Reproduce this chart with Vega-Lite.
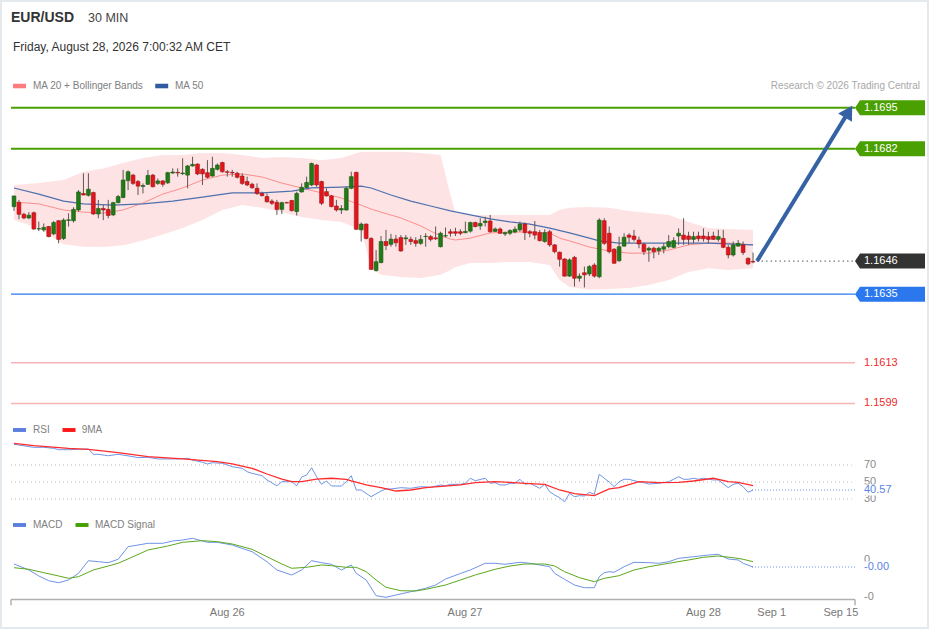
{
  "$schema": "https://vega.github.io/schema/vega-lite/v6.json",
  "width": 929,
  "height": 629,
  "autosize": {"type": "none"},
  "padding": 0,
  "background": "#ffffff",
  "config": {"view": {"stroke": "#e4e9ed", "strokeWidth": 4}, "scale": {"continuousPadding": 0}, "text": {"font": "Liberation Sans"}},
  "datasets": {
    "candles": [
      {"i":0,"o":1.16631,"h":1.16666,"l":1.16617,"c":1.16666},
      {"i":1,"o":1.16645,"h":1.16653,"l":1.16590,"c":1.16606},
      {"i":2,"o":1.16606,"h":1.16611,"l":1.16590,"c":1.16594},
      {"i":3,"o":1.16594,"h":1.16613,"l":1.16590,"c":1.16603},
      {"i":4,"o":1.16611,"h":1.16615,"l":1.16555,"c":1.16558},
      {"i":5,"o":1.16558,"h":1.16582,"l":1.16551,"c":1.16559},
      {"i":6,"o":1.16555,"h":1.16576,"l":1.16549,"c":1.16563},
      {"i":7,"o":1.16566,"h":1.16568,"l":1.16531,"c":1.16533},
      {"i":8,"o":1.16542,"h":1.16584,"l":1.16538,"c":1.16579},
      {"i":9,"o":1.16585,"h":1.16587,"l":1.16511,"c":1.16524},
      {"i":10,"o":1.16527,"h":1.16593,"l":1.16522,"c":1.16587},
      {"i":11,"o":1.16586,"h":1.16609,"l":1.16566,"c":1.16588},
      {"i":12,"o":1.16585,"h":1.16629,"l":1.16579,"c":1.16622},
      {"i":13,"o":1.16620,"h":1.16685,"l":1.16615,"c":1.16679},
      {"i":14,"o":1.16674,"h":1.16740,"l":1.16668,"c":1.16669},
      {"i":15,"o":1.16668,"h":1.16740,"l":1.16664,"c":1.16688},
      {"i":16,"o":1.16677,"h":1.16680,"l":1.16604,"c":1.16607},
      {"i":17,"o":1.16607,"h":1.16653,"l":1.16593,"c":1.16625},
      {"i":18,"o":1.16625,"h":1.16636,"l":1.16587,"c":1.16620},
      {"i":19,"o":1.16622,"h":1.16653,"l":1.16593,"c":1.16602},
      {"i":20,"o":1.16604,"h":1.16647,"l":1.16600,"c":1.16644},
      {"i":21,"o":1.16644,"h":1.16669,"l":1.16642,"c":1.16664},
      {"i":22,"o":1.16661,"h":1.16751,"l":1.16658,"c":1.16718},
      {"i":23,"o":1.16716,"h":1.16749,"l":1.16685,"c":1.16745},
      {"i":24,"o":1.16734,"h":1.16738,"l":1.16702,"c":1.16707},
      {"i":25,"o":1.16713,"h":1.16718,"l":1.16669,"c":1.16698},
      {"i":26,"o":1.16697,"h":1.16707,"l":1.16674,"c":1.16700},
      {"i":27,"o":1.16704,"h":1.16751,"l":1.16702,"c":1.16733},
      {"i":28,"o":1.16734,"h":1.16738,"l":1.16694,"c":1.16696},
      {"i":29,"o":1.16707,"h":1.16723,"l":1.16702,"c":1.16715},
      {"i":30,"o":1.16715,"h":1.16718,"l":1.16696,"c":1.16704},
      {"i":31,"o":1.16709,"h":1.16745,"l":1.16705,"c":1.16742},
      {"i":32,"o":1.16741,"h":1.16756,"l":1.16738,"c":1.16744},
      {"i":33,"o":1.16743,"h":1.16756,"l":1.16729,"c":1.16741},
      {"i":34,"o":1.16739,"h":1.16789,"l":1.16734,"c":1.16741},
      {"i":35,"o":1.16734,"h":1.16767,"l":1.16691,"c":1.16764},
      {"i":36,"o":1.16764,"h":1.16794,"l":1.16762,"c":1.16769},
      {"i":37,"o":1.16770,"h":1.16772,"l":1.16734,"c":1.16738},
      {"i":38,"o":1.16753,"h":1.16756,"l":1.16702,"c":1.16738},
      {"i":39,"o":1.16742,"h":1.16783,"l":1.16723,"c":1.16727},
      {"i":40,"o":1.16731,"h":1.16794,"l":1.16729,"c":1.16756},
      {"i":41,"o":1.16753,"h":1.16772,"l":1.16749,"c":1.16767},
      {"i":42,"o":1.16775,"h":1.16778,"l":1.16742,"c":1.16745},
      {"i":43,"o":1.16745,"h":1.16751,"l":1.16729,"c":1.16743},
      {"i":44,"o":1.16743,"h":1.16751,"l":1.16729,"c":1.16741},
      {"i":45,"o":1.16740,"h":1.16745,"l":1.16723,"c":1.16727},
      {"i":46,"o":1.16731,"h":1.16740,"l":1.16702,"c":1.16707},
      {"i":47,"o":1.16713,"h":1.16729,"l":1.16698,"c":1.16702},
      {"i":48,"o":1.16704,"h":1.16709,"l":1.16689,"c":1.16693},
      {"i":49,"o":1.16691,"h":1.16707,"l":1.16669,"c":1.16674},
      {"i":50,"o":1.16674,"h":1.16680,"l":1.16664,"c":1.16667},
      {"i":51,"o":1.16664,"h":1.16674,"l":1.16644,"c":1.16647},
      {"i":52,"o":1.16649,"h":1.16655,"l":1.16636,"c":1.16642},
      {"i":53,"o":1.16645,"h":1.16653,"l":1.16604,"c":1.16622},
      {"i":54,"o":1.16622,"h":1.16647,"l":1.16607,"c":1.16644},
      {"i":55,"o":1.16644,"h":1.16647,"l":1.16642,"c":1.16643},
      {"i":56,"o":1.16651,"h":1.16653,"l":1.16615,"c":1.16618},
      {"i":57,"o":1.16615,"h":1.16680,"l":1.16602,"c":1.16674},
      {"i":58,"o":1.16679,"h":1.16707,"l":1.16677,"c":1.16694},
      {"i":59,"o":1.16693,"h":1.16729,"l":1.16691,"c":1.16710},
      {"i":60,"o":1.16702,"h":1.16775,"l":1.16698,"c":1.16772},
      {"i":61,"o":1.16767,"h":1.16770,"l":1.16696,"c":1.16702},
      {"i":62,"o":1.16713,"h":1.16716,"l":1.16636,"c":1.16642},
      {"i":63,"o":1.16680,"h":1.16691,"l":1.16664,"c":1.16666},
      {"i":64,"o":1.16666,"h":1.16669,"l":1.16629,"c":1.16631},
      {"i":65,"o":1.16633,"h":1.16653,"l":1.16615,"c":1.16620},
      {"i":66,"o":1.16620,"h":1.16636,"l":1.16607,"c":1.16625},
      {"i":67,"o":1.16620,"h":1.16696,"l":1.16618,"c":1.16691},
      {"i":68,"o":1.16691,"h":1.16745,"l":1.16688,"c":1.16729},
      {"i":69,"o":1.16743,"h":1.16745,"l":1.16555,"c":1.16557},
      {"i":70,"o":1.16555,"h":1.16579,"l":1.16517,"c":1.16574},
      {"i":71,"o":1.16574,"h":1.16576,"l":1.16524,"c":1.16527},
      {"i":72,"o":1.16527,"h":1.16531,"l":1.16424,"c":1.16426},
      {"i":73,"o":1.16422,"h":1.16489,"l":1.16419,"c":1.16451},
      {"i":74,"o":1.16448,"h":1.16535,"l":1.16446,"c":1.16517},
      {"i":75,"o":1.16517,"h":1.16555,"l":1.16489,"c":1.16504},
      {"i":76,"o":1.16508,"h":1.16542,"l":1.16500,"c":1.16525},
      {"i":77,"o":1.16525,"h":1.16538,"l":1.16500,"c":1.16513},
      {"i":78,"o":1.16530,"h":1.16538,"l":1.16484,"c":1.16486},
      {"i":79,"o":1.16526,"h":1.16538,"l":1.16506,"c":1.16529},
      {"i":80,"o":1.16524,"h":1.16533,"l":1.16506,"c":1.16517},
      {"i":81,"o":1.16520,"h":1.16531,"l":1.16500,"c":1.16511},
      {"i":82,"o":1.16511,"h":1.16538,"l":1.16506,"c":1.16524},
      {"i":83,"o":1.16533,"h":1.16544,"l":1.16500,"c":1.16534},
      {"i":84,"o":1.16533,"h":1.16538,"l":1.16517,"c":1.16524},
      {"i":85,"o":1.16529,"h":1.16566,"l":1.16522,"c":1.16526},
      {"i":86,"o":1.16500,"h":1.16549,"l":1.16498,"c":1.16544},
      {"i":87,"o":1.16535,"h":1.16563,"l":1.16531,"c":1.16536},
      {"i":88,"o":1.16549,"h":1.16558,"l":1.16533,"c":1.16544},
      {"i":89,"o":1.16549,"h":1.16562,"l":1.16535,"c":1.16544},
      {"i":90,"o":1.16549,"h":1.16557,"l":1.16538,"c":1.16544},
      {"i":91,"o":1.16546,"h":1.16582,"l":1.16544,"c":1.16550},
      {"i":92,"o":1.16551,"h":1.16582,"l":1.16546,"c":1.16579},
      {"i":93,"o":1.16579,"h":1.16582,"l":1.16563,"c":1.16566},
      {"i":94,"o":1.16568,"h":1.16593,"l":1.16555,"c":1.16576},
      {"i":95,"o":1.16579,"h":1.16598,"l":1.16566,"c":1.16584},
      {"i":96,"o":1.16584,"h":1.16604,"l":1.16546,"c":1.16549},
      {"i":97,"o":1.16550,"h":1.16563,"l":1.16548,"c":1.16558},
      {"i":98,"o":1.16558,"h":1.16563,"l":1.16542,"c":1.16544},
      {"i":99,"o":1.16542,"h":1.16549,"l":1.16535,"c":1.16546},
      {"i":100,"o":1.16544,"h":1.16557,"l":1.16538,"c":1.16553},
      {"i":101,"o":1.16548,"h":1.16566,"l":1.16544,"c":1.16557},
      {"i":102,"o":1.16555,"h":1.16582,"l":1.16549,"c":1.16574},
      {"i":103,"o":1.16574,"h":1.16579,"l":1.16522,"c":1.16546},
      {"i":104,"o":1.16549,"h":1.16555,"l":1.16531,"c":1.16544},
      {"i":105,"o":1.16549,"h":1.16584,"l":1.16524,"c":1.16538},
      {"i":106,"o":1.16546,"h":1.16555,"l":1.16517,"c":1.16520},
      {"i":107,"o":1.16517,"h":1.16557,"l":1.16513,"c":1.16546},
      {"i":108,"o":1.16549,"h":1.16555,"l":1.16500,"c":1.16506},
      {"i":109,"o":1.16506,"h":1.16509,"l":1.16478,"c":1.16484},
      {"i":110,"o":1.16482,"h":1.16484,"l":1.16435,"c":1.16459},
      {"i":111,"o":1.16460,"h":1.16462,"l":1.16402,"c":1.16404},
      {"i":112,"o":1.16404,"h":1.16462,"l":1.16402,"c":1.16457},
      {"i":113,"o":1.16465,"h":1.16470,"l":1.16370,"c":1.16397},
      {"i":114,"o":1.16397,"h":1.16413,"l":1.16386,"c":1.16404},
      {"i":115,"o":1.16415,"h":1.16435,"l":1.16367,"c":1.16408},
      {"i":116,"o":1.16411,"h":1.16440,"l":1.16404,"c":1.16435},
      {"i":117,"o":1.16440,"h":1.16446,"l":1.16399,"c":1.16404},
      {"i":118,"o":1.16402,"h":1.16593,"l":1.16397,"c":1.16587},
      {"i":119,"o":1.16585,"h":1.16593,"l":1.16506,"c":1.16511},
      {"i":120,"o":1.16544,"h":1.16566,"l":1.16478,"c":1.16484},
      {"i":121,"o":1.16492,"h":1.16495,"l":1.16444,"c":1.16446},
      {"i":122,"o":1.16454,"h":1.16533,"l":1.16451,"c":1.16500},
      {"i":123,"o":1.16502,"h":1.16544,"l":1.16500,"c":1.16531},
      {"i":124,"o":1.16538,"h":1.16544,"l":1.16511,"c":1.16531},
      {"i":125,"o":1.16535,"h":1.16555,"l":1.16517,"c":1.16524},
      {"i":126,"o":1.16522,"h":1.16533,"l":1.16495,"c":1.16509},
      {"i":127,"o":1.16508,"h":1.16513,"l":1.16473,"c":1.16484},
      {"i":128,"o":1.16489,"h":1.16500,"l":1.16451,"c":1.16495},
      {"i":129,"o":1.16495,"h":1.16500,"l":1.16462,"c":1.16484},
      {"i":130,"o":1.16487,"h":1.16500,"l":1.16473,"c":1.16495},
      {"i":131,"o":1.16492,"h":1.16511,"l":1.16478,"c":1.16500},
      {"i":132,"o":1.16500,"h":1.16538,"l":1.16495,"c":1.16517},
      {"i":133,"o":1.16498,"h":1.16531,"l":1.16495,"c":1.16520},
      {"i":134,"o":1.16535,"h":1.16560,"l":1.16506,"c":1.16544},
      {"i":135,"o":1.16538,"h":1.16593,"l":1.16506,"c":1.16524},
      {"i":136,"o":1.16535,"h":1.16549,"l":1.16506,"c":1.16524},
      {"i":137,"o":1.16524,"h":1.16549,"l":1.16511,"c":1.16533},
      {"i":138,"o":1.16535,"h":1.16549,"l":1.16517,"c":1.16526},
      {"i":139,"o":1.16535,"h":1.16560,"l":1.16517,"c":1.16526},
      {"i":140,"o":1.16533,"h":1.16549,"l":1.16511,"c":1.16524},
      {"i":141,"o":1.16535,"h":1.16549,"l":1.16522,"c":1.16524},
      {"i":142,"o":1.16524,"h":1.16555,"l":1.16517,"c":1.16533},
      {"i":143,"o":1.16527,"h":1.16555,"l":1.16495,"c":1.16498},
      {"i":144,"o":1.16498,"h":1.16506,"l":1.16462,"c":1.16473},
      {"i":145,"o":1.16473,"h":1.16517,"l":1.16468,"c":1.16506},
      {"i":146,"o":1.16502,"h":1.16522,"l":1.16500,"c":1.16511},
      {"i":147,"o":1.16506,"h":1.16517,"l":1.16473,"c":1.16481},
      {"i":148,"o":1.16462,"h":1.16465,"l":1.16440,"c":1.16444},
      {"i":149,"o":1.16452,"h":1.16481,"l":1.16446,"c":1.16450}
    ],
    "bands": [
      {"i":0,"up":1.16702,"lo":1.16587,"ma":1.16646},
      {"i":5,"up":1.16708,"lo":1.16560,"ma":1.16640},
      {"i":10,"up":1.16718,"lo":1.16508,"ma":1.16620},
      {"i":14,"up":1.16745,"lo":1.16500,"ma":1.16613},
      {"i":18,"up":1.16756,"lo":1.16499,"ma":1.16610},
      {"i":22,"up":1.16774,"lo":1.16505,"ma":1.16620},
      {"i":26,"up":1.16790,"lo":1.16520,"ma":1.16643},
      {"i":30,"up":1.16800,"lo":1.16540,"ma":1.16672},
      {"i":34,"up":1.16800,"lo":1.16561,"ma":1.16692},
      {"i":38,"up":1.16806,"lo":1.16587,"ma":1.16718},
      {"i":42,"up":1.16806,"lo":1.16620,"ma":1.16734},
      {"i":46,"up":1.16800,"lo":1.16636,"ma":1.16738},
      {"i":50,"up":1.16790,"lo":1.16627,"ma":1.16728},
      {"i":54,"up":1.16793,"lo":1.16613,"ma":1.16708},
      {"i":58,"up":1.16790,"lo":1.16597,"ma":1.16692},
      {"i":62,"up":1.16783,"lo":1.16587,"ma":1.16676},
      {"i":66,"up":1.16790,"lo":1.16581,"ma":1.16659},
      {"i":70,"up":1.16810,"lo":1.16555,"ma":1.16636},
      {"i":72,"up":1.16810,"lo":1.16430,"ma":1.16623},
      {"i":74,"up":1.16810,"lo":1.16408,"ma":1.16613},
      {"i":78,"up":1.16810,"lo":1.16401,"ma":1.16594},
      {"i":82,"up":1.16806,"lo":1.16398,"ma":1.16568},
      {"i":86,"up":1.16800,"lo":1.16408,"ma":1.16535},
      {"i":88,"up":1.16669,"lo":1.16424,"ma":1.16525},
      {"i":89,"up":1.16610,"lo":1.16434,"ma":1.16522},
      {"i":92,"up":1.16604,"lo":1.16447,"ma":1.16528},
      {"i":96,"up":1.16604,"lo":1.16447,"ma":1.16545},
      {"i":100,"up":1.16604,"lo":1.16450,"ma":1.16548},
      {"i":104,"up":1.16604,"lo":1.16450,"ma":1.16548},
      {"i":108,"up":1.16604,"lo":1.16440,"ma":1.16545},
      {"i":110,"up":1.16620,"lo":1.16391,"ma":1.16528},
      {"i":112,"up":1.16627,"lo":1.16368,"ma":1.16519},
      {"i":116,"up":1.16630,"lo":1.16359,"ma":1.16499},
      {"i":120,"up":1.16627,"lo":1.16362,"ma":1.16486},
      {"i":124,"up":1.16617,"lo":1.16365,"ma":1.16479},
      {"i":128,"up":1.16610,"lo":1.16375,"ma":1.16479},
      {"i":132,"up":1.16604,"lo":1.16391,"ma":1.16489},
      {"i":136,"up":1.16581,"lo":1.16417,"ma":1.16506},
      {"i":140,"up":1.16561,"lo":1.16430,"ma":1.16512},
      {"i":144,"up":1.16558,"lo":1.16424,"ma":1.16512},
      {"i":149,"up":1.16555,"lo":1.16430,"ma":1.16506}
    ],
    "ma50": [
      {"i":0,"v":1.16692},{"i":5,"v":1.16672},{"i":10,"v":1.16649},{"i":14,"v":1.16640},
      {"i":20,"v":1.16636},{"i":26,"v":1.16640},{"i":32,"v":1.16649},{"i":38,"v":1.16662},
      {"i":44,"v":1.16676},{"i":50,"v":1.16676},{"i":56,"v":1.16682},{"i":60,"v":1.16692},
      {"i":66,"v":1.16695},{"i":70,"v":1.16698},{"i":72,"v":1.16692},{"i":76,"v":1.16669},
      {"i":80,"v":1.16649},{"i":84,"v":1.16633},{"i":88,"v":1.16617},{"i":92,"v":1.16604},
      {"i":96,"v":1.16591},{"i":100,"v":1.16581},{"i":104,"v":1.16574},{"i":108,"v":1.16561},
      {"i":112,"v":1.16545},{"i":116,"v":1.16528},{"i":118,"v":1.16519},{"i":122,"v":1.16512},
      {"i":130,"v":1.16512},{"i":140,"v":1.16512},{"i":149,"v":1.16506}
    ],
    "levels": [
      {"value":1.16954,"label":"1.1695","kind":"resistance"},
      {"value":1.16820,"label":"1.1682","kind":"resistance"},
      {"value":1.16453,"label":"1.1646","kind":"last"},
      {"value":1.16345,"label":"1.1635","kind":"pivot"},
      {"value":1.16121,"label":"1.1613","kind":"support"},
      {"value":1.15988,"label":"1.1599","kind":"support"}
    ],
    "target": [{"i":149.8,"p":1.16453},{"i":167.6,"p":1.169235}],
    "rsi": [
      {"i":0,"v":94.4},{"i":1,"v":93.5},{"i":4,"v":90.8},{"i":6,"v":90.8},{"i":8,"v":89.6},{"i":9,"v":88.0},
      {"i":11,"v":88.0},{"i":13,"v":88.5},{"i":15,"v":88.8},{"i":16,"v":82.6},{"i":17,"v":82.6},{"i":19,"v":80.9},
      {"i":21,"v":82.6},{"i":24,"v":79.8},{"i":25,"v":78.6},{"i":27,"v":79.1},{"i":29,"v":77.1},{"i":33,"v":77.1},
      {"i":35,"v":77.9},{"i":36,"v":75.9},{"i":38,"v":73.2},{"i":39,"v":71.2},{"i":40,"v":72.7},{"i":42,"v":72.0},
      {"i":43,"v":70.0},{"i":44,"v":68.0},{"i":46,"v":66.1},{"i":47,"v":62.1},{"i":48,"v":60.2},{"i":50,"v":57.4},
      {"i":51,"v":52.4},{"i":53,"v":45.6},{"i":54,"v":50.4},{"i":56,"v":50.4},{"i":57,"v":45.6},{"i":58,"v":55.9},
      {"i":59,"v":58.2},{"i":60,"v":66.8},{"i":61,"v":56.2},{"i":62,"v":47.3},{"i":63,"v":51.2},{"i":64,"v":45.3},
      {"i":66,"v":45.3},{"i":67,"v":50.4},{"i":68,"v":57.4},{"i":69,"v":40.6},{"i":70,"v":40.6},{"i":72,"v":32.7},
      {"i":74,"v":39.4},{"i":75,"v":41.8},{"i":76,"v":41.8},{"i":78,"v":43.3},{"i":80,"v":42.6},{"i":82,"v":44.5},
      {"i":84,"v":43.8},{"i":86,"v":46.5},{"i":87,"v":45.6},{"i":88,"v":47.3},{"i":90,"v":47.3},{"i":91,"v":48.5},
      {"i":92,"v":54.4},{"i":93,"v":51.5},{"i":95,"v":54.4},{"i":96,"v":48.5},{"i":97,"v":49.2},{"i":98,"v":46.5},
      {"i":99,"v":46.5},{"i":100,"v":48.5},{"i":101,"v":48.5},{"i":102,"v":53.2},{"i":103,"v":47.3},{"i":104,"v":48.5},
      {"i":105,"v":45.6},{"i":106,"v":42.6},{"i":107,"v":47.3},{"i":108,"v":38.6},{"i":109,"v":34.7},{"i":110,"v":31.5},
      {"i":111,"v":26.8},{"i":112,"v":36.7},{"i":113,"v":32.7},{"i":114,"v":33.9},{"i":115,"v":33.5},{"i":116,"v":37.9},
      {"i":117,"v":35.5},{"i":118,"v":59.1},{"i":119,"v":54.4},{"i":120,"v":50.0},{"i":121,"v":44.5},{"i":122,"v":50.4},
      {"i":123,"v":53.2},{"i":124,"v":53.2},{"i":125,"v":51.5},{"i":127,"v":49.2},{"i":128,"v":47.6},{"i":130,"v":48.5},
      {"i":132,"v":50.4},{"i":134,"v":56.2},{"i":135,"v":53.2},{"i":136,"v":53.2},{"i":137,"v":54.4},{"i":138,"v":53.2},
      {"i":139,"v":54.4},{"i":141,"v":52.4},{"i":142,"v":52.4},{"i":144,"v":43.3},{"i":145,"v":47.3},{"i":146,"v":48.5},
      {"i":147,"v":44.5},{"i":148,"v":37.9},{"i":149,"v":40.57}
    ],
    "rsima": [
      {"i":0,"v":95.5},{"i":4,"v":92.7},{"i":11,"v":89.6},{"i":15,"v":88.5},{"i":21,"v":84.5},{"i":27,"v":79.8},
      {"i":34,"v":77.1},{"i":41,"v":73.9},{"i":44,"v":71.2},{"i":48,"v":66.1},{"i":51,"v":59.4},{"i":54,"v":53.5},
      {"i":56,"v":50.4},{"i":58,"v":50.4},{"i":61,"v":53.5},{"i":64,"v":54.4},{"i":67,"v":53.2},{"i":68,"v":51.2},
      {"i":71,"v":46.5},{"i":74,"v":43.3},{"i":77,"v":39.4},{"i":80,"v":40.6},{"i":83,"v":43.3},{"i":90,"v":46.5},
      {"i":93,"v":49.2},{"i":97,"v":50.4},{"i":100,"v":49.6},{"i":103,"v":48.5},{"i":107,"v":47.3},{"i":110,"v":40.6},
      {"i":113,"v":36.2},{"i":117,"v":33.9},{"i":120,"v":41.8},{"i":122,"v":43.3},{"i":126,"v":50.4},{"i":130,"v":49.2},
      {"i":134,"v":49.6},{"i":137,"v":51.2},{"i":141,"v":54.4},{"i":144,"v":50.4},{"i":146,"v":49.6},{"i":149,"v":45.6}
    ],
    "rsigrid": [{"v":70,"label":"70"},{"v":50,"label":"50"},{"v":30,"label":"30"}],
    "macd": [
      {"i":0,"v":-0.000108},{"i":3,"v":-0.00027},{"i":5,"v":-0.000432},{"i":7,"v":-0.00056},{"i":9,"v":-0.000614},
      {"i":11,"v":-0.00054},{"i":13,"v":-0.00036},{"i":15,"v":-0.000019},{"i":17,"v":-0.000046},{"i":19,"v":-0.000073},
      {"i":21,"v":0.000019},{"i":23,"v":0.00036},{"i":25,"v":0.000405},{"i":27,"v":0.000451},{"i":30,"v":0.000451},
      {"i":32,"v":0.000514},{"i":34,"v":0.00054},{"i":36,"v":0.000586},{"i":39,"v":0.000478},{"i":41,"v":0.000478},
      {"i":44,"v":0.000405},{"i":48,"v":0.000224},{"i":51,"v":-0.000046},{"i":53,"v":-0.00027},{"i":56,"v":-0.000405},
      {"i":58,"v":-0.00027},{"i":60,"v":-0.000019},{"i":62,"v":-0.000073},{"i":64,"v":-0.000116},{"i":66,"v":-0.00027},
      {"i":68,"v":-0.000135},{"i":69,"v":-0.00036},{"i":71,"v":-0.00054},{"i":73,"v":-0.000965},{"i":75,"v":-0.001008},
      {"i":77,"v":-0.000946},{"i":80,"v":-0.000857},{"i":83,"v":-0.000765},{"i":85,"v":-0.000676},{"i":87,"v":-0.000514},
      {"i":90,"v":-0.000365},{"i":92,"v":-0.00027},{"i":95,"v":-0.000089},{"i":97,"v":-0.000089},{"i":99,"v":-0.000116},
      {"i":102,"v":-0.000062},{"i":104,"v":-0.000089},{"i":106,"v":-0.000135},{"i":108,"v":-0.000181},{"i":109,"v":-0.00036},
      {"i":111,"v":-0.000522},{"i":113,"v":-0.000676},{"i":115,"v":-0.000749},{"i":117,"v":-0.000749},{"i":118,"v":-0.000451},
      {"i":119,"v":-0.000343},{"i":120,"v":-0.000316},{"i":121,"v":-0.000332},{"i":123,"v":-0.000181},{"i":125,"v":-0.000062},
      {"i":128,"v":-0.000073},{"i":130,"v":-0.000089},{"i":132,"v":-0.000046},{"i":134,"v":0.000046},{"i":137,"v":0.000089},
      {"i":140,"v":0.000135},{"i":142,"v":0.000154},{"i":144,"v":0.000027},{"i":146,"v":0},{"i":147,"v":-0.000089},
      {"i":149,"v":-0.00019}
    ],
    "signal": [
      {"i":0,"v":-0.000208},{"i":3,"v":-0.000251},{"i":6,"v":-0.000343},{"i":9,"v":-0.000432},{"i":11,"v":-0.000495},
      {"i":13,"v":-0.000451},{"i":16,"v":-0.00027},{"i":19,"v":-0.000162},{"i":21,"v":-0.000089},{"i":24,"v":0.000089},
      {"i":27,"v":0.00027},{"i":31,"v":0.000378},{"i":34,"v":0.000478},{"i":38,"v":0.000522},{"i":41,"v":0.000495},
      {"i":44,"v":0.000432},{"i":48,"v":0.000289},{"i":51,"v":0.000089},{"i":54,"v":-0.000108},{"i":56,"v":-0.000224},
      {"i":59,"v":-0.000197},{"i":62,"v":-0.000135},{"i":64,"v":-0.000154},{"i":67,"v":-0.000197},{"i":69,"v":-0.000197},
      {"i":71,"v":-0.000316},{"i":73,"v":-0.00054},{"i":75,"v":-0.000738},{"i":78,"v":-0.00083},{"i":81,"v":-0.000838},
      {"i":83,"v":-0.000792},{"i":87,"v":-0.000676},{"i":90,"v":-0.00054},{"i":93,"v":-0.000405},{"i":97,"v":-0.000251},
      {"i":100,"v":-0.000162},{"i":103,"v":-0.000108},{"i":107,"v":-0.000108},{"i":109,"v":-0.000162},{"i":111,"v":-0.000316},
      {"i":114,"v":-0.000478},{"i":117,"v":-0.000586},{"i":119,"v":-0.000495},{"i":122,"v":-0.000424},{"i":125,"v":-0.00027},
      {"i":128,"v":-0.000181},{"i":132,"v":-0.000089},{"i":136,"v":0},{"i":139,"v":0.000073},{"i":142,"v":0.000108},
      {"i":145,"v":0.000062},{"i":147,"v":0.000019},{"i":149,"v":-0.000046}
    ],
    "macdticks": [{"v":0,"label":"0"},{"v":-0.001,"label":"-0"}],
    "axisends": [{"i":-0.6},{"i":169.56}],
    "dates": [
      {"i":43,"label":"Aug 26"},{"i":90.93,"label":"Aug 27"},{"i":139,"label":"Aug 28"},
      {"i":152.76,"label":"Sep 1"},{"i":166.7,"label":"Sep 15"}
    ]
  },
  "layer": [
    {
      "layer": [
        {
          "data": {"name": "bands"},
          "mark": {"type": "area", "color": "#fde3e3", "opacity": 1},
          "encoding": {
            "x": {"field": "i", "type": "quantitative", "scale": {"domain": [-2.8226, 184.476], "nice": false, "zero": false}, "axis": null},
            "y": {"field": "lo", "type": "quantitative", "scale": {"domain": [1.152507, 1.173063], "nice": false, "zero": false}, "axis": null},
            "y2": {"field": "up"}
          }
        },
        {
          "data": {"name": "bands"},
          "mark": {"type": "line", "color": "#ff8d8d", "strokeWidth": 1},
          "encoding": {
            "x": {"field": "i", "type": "quantitative", "scale": {"domain": [-2.8226, 184.476], "nice": false, "zero": false}, "axis": null},
            "y": {"field": "ma", "type": "quantitative", "scale": {"domain": [1.152507, 1.173063], "nice": false, "zero": false}, "axis": null}
          }
        },
        {
          "data": {"name": "ma50"},
          "mark": {"type": "line", "color": "#4e70ad", "strokeWidth": 1.2},
          "encoding": {
            "x": {"field": "i", "type": "quantitative", "scale": {"domain": [-2.8226, 184.476], "nice": false, "zero": false}, "axis": null},
            "y": {"field": "v", "type": "quantitative", "scale": {"domain": [1.152507, 1.173063], "nice": false, "zero": false}, "axis": null}
          }
        },
        {
          "data": {"name": "candles"},
          "mark": {"type": "rule", "color": "#5e5656", "strokeWidth": 1},
          "encoding": {
            "x": {"field": "i", "type": "quantitative", "scale": {"domain": [-2.8226, 184.476], "nice": false, "zero": false}, "axis": null},
            "y": {"field": "l", "type": "quantitative", "scale": {"domain": [1.152507, 1.173063], "nice": false, "zero": false}, "axis": null},
            "y2": {"field": "h"}
          }
        },
        {
          "data": {"name": "candles"},
          "mark": {"type": "bar", "strokeWidth": 0.6},
          "encoding": {
            "x": {"field": "i", "type": "quantitative", "scale": {"domain": [-2.8226, 184.476], "nice": false, "zero": false}, "axis": null},
            "y": {"field": "o", "type": "quantitative", "scale": {"domain": [1.152507, 1.173063], "nice": false, "zero": false}, "axis": null},
            "y2": {"field": "c"},
            "size": {"value": 3.8},
            "color": {"condition": {"test": "datum.c >= datum.o", "value": "#217a17"}, "value": "#e3161c"},
            "stroke": {"condition": {"test": "datum.c >= datum.o", "value": "#175a10"}, "value": "#a51014"}
          }
        },
        {
          "data": {"name": "levels"},
          "transform": [{"filter": "datum.kind == 'resistance'"}],
          "mark": {"type": "rule", "color": "#4aa000", "strokeWidth": 2},
          "encoding": {
            "x": {"datum": -0.605, "type": "quantitative", "scale": {"domain": [-2.8226, 184.476], "nice": false, "zero": false}, "axis": null},
            "x2": {"datum": 169.56},
            "y": {"field": "value", "type": "quantitative", "scale": {"domain": [1.152507, 1.173063], "nice": false, "zero": false}, "axis": null}
          }
        },
        {
          "data": {"name": "levels"},
          "transform": [{"filter": "datum.kind == 'pivot'"}],
          "mark": {"type": "rule", "color": "#2b78ee", "strokeWidth": 1.3},
          "encoding": {
            "x": {"datum": -0.605, "type": "quantitative", "scale": {"domain": [-2.8226, 184.476], "nice": false, "zero": false}, "axis": null},
            "x2": {"datum": 169.56},
            "y": {"field": "value", "type": "quantitative", "scale": {"domain": [1.152507, 1.173063], "nice": false, "zero": false}, "axis": null}
          }
        },
        {
          "data": {"name": "levels"},
          "transform": [{"filter": "datum.kind == 'support'"}],
          "mark": {"type": "rule", "color": "#f7b5b5", "strokeWidth": 1.5},
          "encoding": {
            "x": {"datum": -0.605, "type": "quantitative", "scale": {"domain": [-2.8226, 184.476], "nice": false, "zero": false}, "axis": null},
            "x2": {"datum": 169.56},
            "y": {"field": "value", "type": "quantitative", "scale": {"domain": [1.152507, 1.173063], "nice": false, "zero": false}, "axis": null}
          }
        },
        {
          "data": {"name": "levels"},
          "transform": [{"filter": "datum.kind == 'last'"}],
          "mark": {"type": "rule", "color": "#555555", "strokeWidth": 1, "strokeDash": [1.5, 3]},
          "encoding": {
            "x": {"datum": 149.8, "type": "quantitative", "scale": {"domain": [-2.8226, 184.476], "nice": false, "zero": false}, "axis": null},
            "x2": {"datum": 169.56},
            "y": {"field": "value", "type": "quantitative", "scale": {"domain": [1.152507, 1.173063], "nice": false, "zero": false}, "axis": null}
          }
        },
        {
          "data": {"name": "levels"},
          "transform": [{"filter": "datum.kind != 'support'"}],
          "mark": {"type": "point", "shape": "M-1,0L-0.857,-0.214L1,-0.214L1,0.214L-0.857,0.214Z", "size": 4900, "filled": true, "opacity": 1, "strokeWidth": 0},
          "encoding": {
            "x": {"datum": 176.61, "type": "quantitative", "scale": {"domain": [-2.8226, 184.476], "nice": false, "zero": false}, "axis": null},
            "y": {"field": "value", "type": "quantitative", "scale": {"domain": [1.152507, 1.173063], "nice": false, "zero": false}, "axis": null},
            "color": {"field": "kind", "type": "nominal", "scale": {"domain": ["resistance", "last", "pivot"], "range": ["#4aa000", "#333333", "#2b78ee"]}, "legend": null}
          }
        },
        {
          "data": {"name": "levels"},
          "transform": [{"filter": "datum.kind != 'support'"}],
          "mark": {"type": "text", "color": "#ffffff", "fontSize": 11, "align": "left", "baseline": "middle"},
          "encoding": {
            "x": {"datum": 171.37, "type": "quantitative", "scale": {"domain": [-2.8226, 184.476], "nice": false, "zero": false}, "axis": null},
            "y": {"field": "value", "type": "quantitative", "scale": {"domain": [1.152507, 1.173063], "nice": false, "zero": false}, "axis": null},
            "text": {"field": "label"}
          }
        },
        {
          "data": {"name": "levels"},
          "transform": [{"filter": "datum.kind == 'support'"}],
          "mark": {"type": "text", "color": "#ee2b2b", "fontSize": 11, "align": "left", "baseline": "middle"},
          "encoding": {
            "x": {"datum": 171.37, "type": "quantitative", "scale": {"domain": [-2.8226, 184.476], "nice": false, "zero": false}, "axis": null},
            "y": {"field": "value", "type": "quantitative", "scale": {"domain": [1.152507, 1.173063], "nice": false, "zero": false}, "axis": null},
            "text": {"field": "label"}
          }
        },
        {
          "data": {"name": "target"},
          "mark": {"type": "line", "color": "#3462a4", "strokeWidth": 4},
          "encoding": {
            "x": {"field": "i", "type": "quantitative", "scale": {"domain": [-2.8226, 184.476], "nice": false, "zero": false}, "axis": null},
            "y": {"field": "p", "type": "quantitative", "scale": {"domain": [1.152507, 1.173063], "nice": false, "zero": false}, "axis": null}
          }
        },
        {
          "data": {"values": [{}]},
          "mark": {"type": "point", "shape": "triangle-up", "angle": 31, "size": 260, "filled": true, "opacity": 1, "color": "#3462a4"},
          "encoding": {
            "x": {"datum": 168.27, "type": "quantitative", "scale": {"domain": [-2.8226, 184.476], "nice": false, "zero": false}, "axis": null},
            "y": {"datum": 1.169415, "type": "quantitative", "scale": {"domain": [1.152507, 1.173063], "nice": false, "zero": false}, "axis": null}
          }
        },
        {
          "data": {"values": [{"t": "EUR/USD"}]},
          "mark": {"type": "text", "fontSize": 14, "fontWeight": "bold", "color": "#333333", "align": "left", "baseline": "middle"},
          "encoding": {
            "x": {"datum": -0.605, "type": "quantitative", "scale": {"domain": [-2.8226, 184.476], "nice": false, "zero": false}, "axis": null},
            "y": {"datum": 1.172474, "type": "quantitative", "scale": {"domain": [1.152507, 1.173063], "nice": false, "zero": false}, "axis": null},
            "text": {"field": "t"}
          }
        },
        {
          "data": {"values": [{"t": "30 MIN"}]},
          "mark": {"type": "text", "fontSize": 12.5, "color": "#444444", "align": "left", "baseline": "middle"},
          "encoding": {
            "x": {"datum": 14.92, "type": "quantitative", "scale": {"domain": [-2.8226, 184.476], "nice": false, "zero": false}, "axis": null},
            "y": {"datum": 1.172474, "type": "quantitative", "scale": {"domain": [1.152507, 1.173063], "nice": false, "zero": false}, "axis": null},
            "text": {"field": "t"}
          }
        },
        {
          "data": {"values": [{"t": "Friday, August 28, 2026 7:00:32 AM CET"}]},
          "mark": {"type": "text", "fontSize": 12, "color": "#333333", "align": "left", "baseline": "middle"},
          "encoding": {
            "x": {"datum": -0.2, "type": "quantitative", "scale": {"domain": [-2.8226, 184.476], "nice": false, "zero": false}, "axis": null},
            "y": {"datum": 1.171526, "type": "quantitative", "scale": {"domain": [1.152507, 1.173063], "nice": false, "zero": false}, "axis": null},
            "text": {"field": "t"}
          }
        },
        {
          "data": {"values": [{}]},
          "mark": {"type": "point", "shape": "M-1,-0.35L1,-0.35L1,0.35L-1,0.35Z", "size": 169, "filled": true, "opacity": 1, "color": "#ff7c7c"},
          "encoding": {
            "x": {"datum": 1.11, "type": "quantitative", "scale": {"domain": [-2.8226, 184.476], "nice": false, "zero": false}, "axis": null},
            "y": {"datum": 1.170252, "type": "quantitative", "scale": {"domain": [1.152507, 1.173063], "nice": false, "zero": false}, "axis": null}
          }
        },
        {
          "data": {"values": [{"t": "MA 20 + Bollinger Bands"}]},
          "mark": {"type": "text", "fontSize": 10, "color": "#808080", "align": "left", "baseline": "middle"},
          "encoding": {
            "x": {"datum": 3.83, "type": "quantitative", "scale": {"domain": [-2.8226, 184.476], "nice": false, "zero": false}, "axis": null},
            "y": {"datum": 1.170252, "type": "quantitative", "scale": {"domain": [1.152507, 1.173063], "nice": false, "zero": false}, "axis": null},
            "text": {"field": "t"}
          }
        },
        {
          "data": {"values": [{}]},
          "mark": {"type": "point", "shape": "M-1,-0.35L1,-0.35L1,0.35L-1,0.35Z", "size": 169, "filled": true, "opacity": 1, "color": "#2f5c9e"},
          "encoding": {
            "x": {"datum": 29.78, "type": "quantitative", "scale": {"domain": [-2.8226, 184.476], "nice": false, "zero": false}, "axis": null},
            "y": {"datum": 1.170252, "type": "quantitative", "scale": {"domain": [1.152507, 1.173063], "nice": false, "zero": false}, "axis": null}
          }
        },
        {
          "data": {"values": [{"t": "MA 50"}]},
          "mark": {"type": "text", "fontSize": 10, "color": "#808080", "align": "left", "baseline": "middle"},
          "encoding": {
            "x": {"datum": 32.46, "type": "quantitative", "scale": {"domain": [-2.8226, 184.476], "nice": false, "zero": false}, "axis": null},
            "y": {"datum": 1.170252, "type": "quantitative", "scale": {"domain": [1.152507, 1.173063], "nice": false, "zero": false}, "axis": null},
            "text": {"field": "t"}
          }
        },
        {
          "data": {"values": [{"t": "Research © 2026 Trading Central"}]},
          "mark": {"type": "text", "fontSize": 10, "color": "#a8a8a8", "align": "right", "baseline": "middle"},
          "encoding": {
            "x": {"datum": 182.66, "type": "quantitative", "scale": {"domain": [-2.8226, 184.476], "nice": false, "zero": false}, "axis": null},
            "y": {"datum": 1.170252, "type": "quantitative", "scale": {"domain": [1.152507, 1.173063], "nice": false, "zero": false}, "axis": null},
            "text": {"field": "t"}
          }
        }
      ]
    },
    {
      "layer": [
        {
          "data": {"name": "rsigrid"},
          "mark": {"type": "rule", "color": "#b8b8b8", "strokeWidth": 1, "strokeDash": [1, 3]},
          "encoding": {
            "x": {"datum": -0.605, "type": "quantitative", "scale": {"domain": [-2.8226, 184.476], "nice": false, "zero": false}, "axis": null},
            "x2": {"datum": 168.9},
            "y": {"field": "v", "type": "quantitative", "scale": {"domain": [-122.94, 617.06], "nice": false, "zero": false}, "axis": null}
          }
        },
        {
          "data": {"name": "rsigrid"},
          "mark": {"type": "text", "color": "#8a8a8a", "fontSize": 11, "align": "left", "baseline": "middle"},
          "encoding": {
            "x": {"datum": 171.37, "type": "quantitative", "scale": {"domain": [-2.8226, 184.476], "nice": false, "zero": false}, "axis": null},
            "y": {"field": "v", "type": "quantitative", "scale": {"domain": [-122.94, 617.06], "nice": false, "zero": false}, "axis": null},
            "text": {"field": "label"}
          }
        },
        {
          "data": {"values": [{}]},
          "mark": {"type": "point", "shape": "M-1,-0.275L1,-0.275L1,0.275L-1,0.275Z", "size": 1600, "filled": true, "opacity": 1, "color": "#ffffff"},
          "encoding": {
            "x": {"datum": 174.6, "type": "quantitative", "scale": {"domain": [-2.8226, 184.476], "nice": false, "zero": false}, "axis": null},
            "y": {"datum": 40.57, "type": "quantitative", "scale": {"domain": [-122.94, 617.06], "nice": false, "zero": false}, "axis": null}
          }
        },
        {
          "data": {"name": "rsi"},
          "mark": {"type": "line", "color": "#7094e6", "strokeWidth": 1},
          "encoding": {
            "x": {"field": "i", "type": "quantitative", "scale": {"domain": [-2.8226, 184.476], "nice": false, "zero": false}, "axis": null},
            "y": {"field": "v", "type": "quantitative", "scale": {"domain": [-122.94, 617.06], "nice": false, "zero": false}, "axis": null}
          }
        },
        {
          "data": {"name": "rsima"},
          "mark": {"type": "line", "color": "#ff2b2b", "strokeWidth": 1.3},
          "encoding": {
            "x": {"field": "i", "type": "quantitative", "scale": {"domain": [-2.8226, 184.476], "nice": false, "zero": false}, "axis": null},
            "y": {"field": "v", "type": "quantitative", "scale": {"domain": [-122.94, 617.06], "nice": false, "zero": false}, "axis": null}
          }
        },
        {
          "data": {"values": [{"v": 40.57, "label": "40.57"}]},
          "mark": {"type": "rule", "color": "#6a8fe6", "strokeWidth": 1, "strokeDash": [1, 2]},
          "encoding": {
            "x": {"datum": 148.8, "type": "quantitative", "scale": {"domain": [-2.8226, 184.476], "nice": false, "zero": false}, "axis": null},
            "x2": {"datum": 169.56},
            "y": {"field": "v", "type": "quantitative", "scale": {"domain": [-122.94, 617.06], "nice": false, "zero": false}, "axis": null}
          }
        },
        {
          "data": {"values": [{"v": 40.57, "label": "40.57"}]},
          "mark": {"type": "text", "color": "#5b83e3", "fontSize": 11, "align": "left", "baseline": "middle"},
          "encoding": {
            "x": {"datum": 171.37, "type": "quantitative", "scale": {"domain": [-2.8226, 184.476], "nice": false, "zero": false}, "axis": null},
            "y": {"field": "v", "type": "quantitative", "scale": {"domain": [-122.94, 617.06], "nice": false, "zero": false}, "axis": null},
            "text": {"field": "label"}
          }
        },
        {
          "data": {"values": [{}]},
          "mark": {"type": "point", "shape": "M-1,-0.3L1,-0.3L1,0.3L-1,0.3Z", "size": 169, "filled": true, "opacity": 1, "color": "#5b7fe0"},
          "encoding": {
            "x": {"datum": 1.11, "type": "quantitative", "scale": {"domain": [-2.8226, 184.476], "nice": false, "zero": false}, "axis": null},
            "y": {"datum": 111.18, "type": "quantitative", "scale": {"domain": [-122.94, 617.06], "nice": false, "zero": false}, "axis": null}
          }
        },
        {
          "data": {"values": [{"t": "RSI"}]},
          "mark": {"type": "text", "fontSize": 10, "color": "#808080", "align": "left", "baseline": "middle"},
          "encoding": {
            "x": {"datum": 3.83, "type": "quantitative", "scale": {"domain": [-2.8226, 184.476], "nice": false, "zero": false}, "axis": null},
            "y": {"datum": 111.18, "type": "quantitative", "scale": {"domain": [-122.94, 617.06], "nice": false, "zero": false}, "axis": null},
            "text": {"field": "t"}
          }
        },
        {
          "data": {"values": [{}]},
          "mark": {"type": "point", "shape": "M-1,-0.3L1,-0.3L1,0.3L-1,0.3Z", "size": 169, "filled": true, "opacity": 1, "color": "#ff1717"},
          "encoding": {
            "x": {"datum": 11.09, "type": "quantitative", "scale": {"domain": [-2.8226, 184.476], "nice": false, "zero": false}, "axis": null},
            "y": {"datum": 111.18, "type": "quantitative", "scale": {"domain": [-122.94, 617.06], "nice": false, "zero": false}, "axis": null}
          }
        },
        {
          "data": {"values": [{"t": "9MA"}]},
          "mark": {"type": "text", "fontSize": 10, "color": "#808080", "align": "left", "baseline": "middle"},
          "encoding": {
            "x": {"datum": 13.65, "type": "quantitative", "scale": {"domain": [-2.8226, 184.476], "nice": false, "zero": false}, "axis": null},
            "y": {"datum": 111.18, "type": "quantitative", "scale": {"domain": [-122.94, 617.06], "nice": false, "zero": false}, "axis": null},
            "text": {"field": "t"}
          }
        }
      ]
    },
    {
      "layer": [
        {
          "data": {"name": "macdticks"},
          "mark": {"type": "text", "color": "#8a8a8a", "fontSize": 11, "align": "left", "baseline": "middle"},
          "encoding": {
            "x": {"datum": 171.37, "type": "quantitative", "scale": {"domain": [-2.8226, 184.476], "nice": false, "zero": false}, "axis": null},
            "y": {"field": "v", "type": "quantitative", "scale": {"domain": [-0.0018649, 0.0151351], "nice": false, "zero": false}, "axis": null},
            "text": {"field": "label"}
          }
        },
        {
          "data": {"values": [{}]},
          "mark": {"type": "point", "shape": "M-1,-0.275L1,-0.275L1,0.275L-1,0.275Z", "size": 1600, "filled": true, "opacity": 1, "color": "#ffffff"},
          "encoding": {
            "x": {"datum": 174.6, "type": "quantitative", "scale": {"domain": [-2.8226, 184.476], "nice": false, "zero": false}, "axis": null},
            "y": {"datum": -0.00019, "type": "quantitative", "scale": {"domain": [-0.0018649, 0.0151351], "nice": false, "zero": false}, "axis": null}
          }
        },
        {
          "data": {"name": "macd"},
          "mark": {"type": "line", "color": "#6f93e8", "strokeWidth": 1},
          "encoding": {
            "x": {"field": "i", "type": "quantitative", "scale": {"domain": [-2.8226, 184.476], "nice": false, "zero": false}, "axis": null},
            "y": {"field": "v", "type": "quantitative", "scale": {"domain": [-0.0018649, 0.0151351], "nice": false, "zero": false}, "axis": null}
          }
        },
        {
          "data": {"name": "signal"},
          "mark": {"type": "line", "color": "#5ca81e", "strokeWidth": 1},
          "encoding": {
            "x": {"field": "i", "type": "quantitative", "scale": {"domain": [-2.8226, 184.476], "nice": false, "zero": false}, "axis": null},
            "y": {"field": "v", "type": "quantitative", "scale": {"domain": [-0.0018649, 0.0151351], "nice": false, "zero": false}, "axis": null}
          }
        },
        {
          "data": {"values": [{"v": -0.00019, "label": "-0.00"}]},
          "mark": {"type": "rule", "color": "#6a8fe6", "strokeWidth": 1, "strokeDash": [1, 2]},
          "encoding": {
            "x": {"datum": 148.8, "type": "quantitative", "scale": {"domain": [-2.8226, 184.476], "nice": false, "zero": false}, "axis": null},
            "x2": {"datum": 169.56},
            "y": {"field": "v", "type": "quantitative", "scale": {"domain": [-0.0018649, 0.0151351], "nice": false, "zero": false}, "axis": null}
          }
        },
        {
          "data": {"values": [{"v": -0.00019, "label": "-0.00"}]},
          "mark": {"type": "text", "color": "#5b83e3", "fontSize": 11, "align": "left", "baseline": "middle"},
          "encoding": {
            "x": {"datum": 171.37, "type": "quantitative", "scale": {"domain": [-2.8226, 184.476], "nice": false, "zero": false}, "axis": null},
            "y": {"field": "v", "type": "quantitative", "scale": {"domain": [-0.0018649, 0.0151351], "nice": false, "zero": false}, "axis": null},
            "text": {"field": "label"}
          }
        },
        {
          "data": {"values": [{}]},
          "mark": {"type": "rule", "color": "#b0b0b0", "strokeWidth": 1.5},
          "encoding": {
            "x": {"datum": -0.605, "type": "quantitative", "scale": {"domain": [-2.8226, 184.476], "nice": false, "zero": false}, "axis": null},
            "x2": {"datum": 169.56},
            "y": {"datum": -0.0010676, "type": "quantitative", "scale": {"domain": [-0.0018649, 0.0151351], "nice": false, "zero": false}, "axis": null}
          }
        },
        {
          "data": {"name": "axisends"},
          "mark": {"type": "rule", "color": "#b0b0b0", "strokeWidth": 1.5},
          "encoding": {
            "x": {"field": "i", "type": "quantitative", "scale": {"domain": [-2.8226, 184.476], "nice": false, "zero": false}, "axis": null},
            "y": {"datum": -0.0010676, "type": "quantitative", "scale": {"domain": [-0.0018649, 0.0151351], "nice": false, "zero": false}, "axis": null},
            "y2": {"datum": -0.00122}
          }
        },
        {
          "data": {"name": "dates"},
          "mark": {"type": "text", "color": "#777777", "fontSize": 11, "align": "center", "baseline": "middle"},
          "encoding": {
            "x": {"field": "i", "type": "quantitative", "scale": {"domain": [-2.8226, 184.476], "nice": false, "zero": false}, "axis": null},
            "y": {"datum": -0.0014324, "type": "quantitative", "scale": {"domain": [-0.0018649, 0.0151351], "nice": false, "zero": false}, "axis": null},
            "text": {"field": "label"}
          }
        },
        {
          "data": {"values": [{}]},
          "mark": {"type": "point", "shape": "M-1,-0.3L1,-0.3L1,0.3L-1,0.3Z", "size": 169, "filled": true, "opacity": 1, "color": "#5b7fe0"},
          "encoding": {
            "x": {"datum": 1.11, "type": "quantitative", "scale": {"domain": [-2.8226, 184.476], "nice": false, "zero": false}, "axis": null},
            "y": {"datum": 0.000946, "type": "quantitative", "scale": {"domain": [-0.0018649, 0.0151351], "nice": false, "zero": false}, "axis": null}
          }
        },
        {
          "data": {"values": [{"t": "MACD"}]},
          "mark": {"type": "text", "fontSize": 10, "color": "#808080", "align": "left", "baseline": "middle"},
          "encoding": {
            "x": {"datum": 3.83, "type": "quantitative", "scale": {"domain": [-2.8226, 184.476], "nice": false, "zero": false}, "axis": null},
            "y": {"datum": 0.000946, "type": "quantitative", "scale": {"domain": [-0.0018649, 0.0151351], "nice": false, "zero": false}, "axis": null},
            "text": {"field": "t"}
          }
        },
        {
          "data": {"values": [{}]},
          "mark": {"type": "point", "shape": "M-1,-0.3L1,-0.3L1,0.3L-1,0.3Z", "size": 169, "filled": true, "opacity": 1, "color": "#44a000"},
          "encoding": {
            "x": {"datum": 13.71, "type": "quantitative", "scale": {"domain": [-2.8226, 184.476], "nice": false, "zero": false}, "axis": null},
            "y": {"datum": 0.000946, "type": "quantitative", "scale": {"domain": [-0.0018649, 0.0151351], "nice": false, "zero": false}, "axis": null}
          }
        },
        {
          "data": {"values": [{"t": "MACD Signal"}]},
          "mark": {"type": "text", "fontSize": 10, "color": "#808080", "align": "left", "baseline": "middle"},
          "encoding": {
            "x": {"datum": 16.33, "type": "quantitative", "scale": {"domain": [-2.8226, 184.476], "nice": false, "zero": false}, "axis": null},
            "y": {"datum": 0.000946, "type": "quantitative", "scale": {"domain": [-0.0018649, 0.0151351], "nice": false, "zero": false}, "axis": null},
            "text": {"field": "t"}
          }
        }
      ]
    }
  ],
  "resolve": {"scale": {"y": "independent"}}
}
